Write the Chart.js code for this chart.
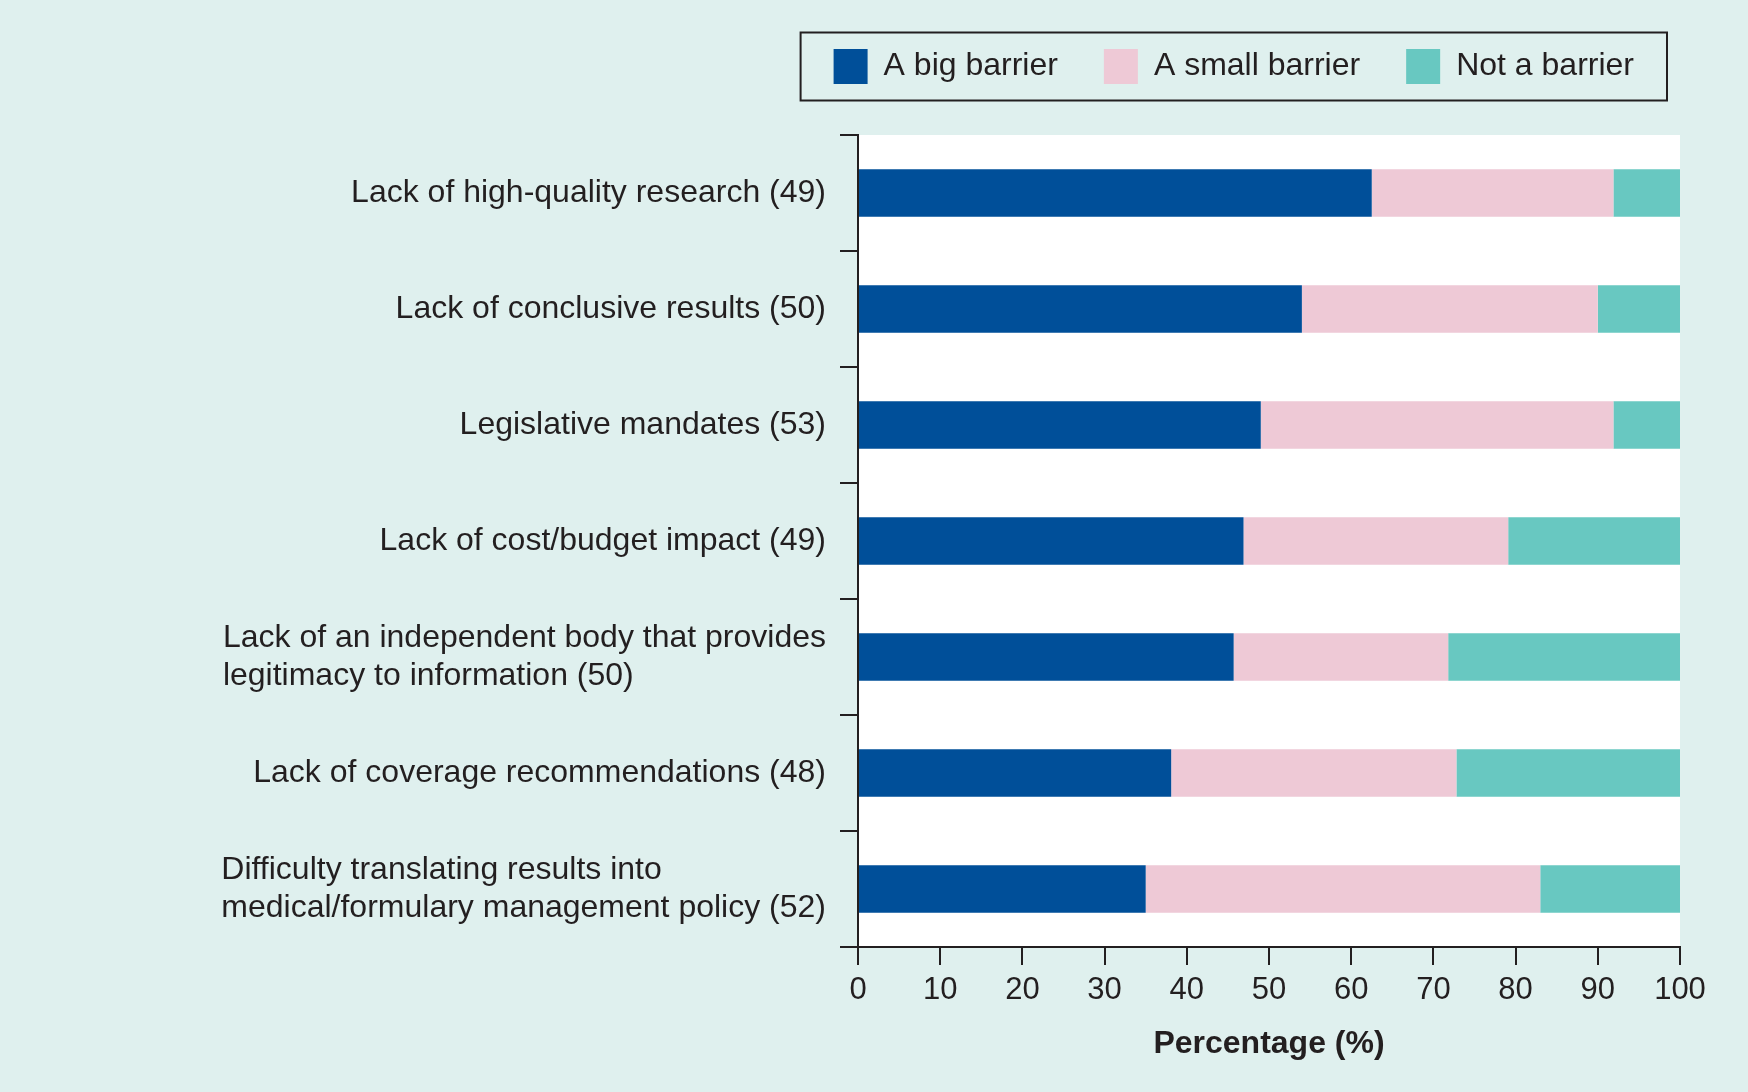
<!DOCTYPE html>
<html>
<head>
<meta charset="utf-8">
<title>Barriers</title>
<script src="https://cdn.jsdelivr.net/npm/chart.js@4.4.1/dist/chart.umd.min.js"></script>
<style>
  html, body { margin: 0; padding: 0; background: #dff0ee; }
  canvas { display: block; }
</style>
</head>
<body>
<canvas id="grafica" width="1748" height="1092"></canvas>
<script>
// datos (porcentajes)
var categorias = [
  'Lack of high-quality research (49)',
  'Lack of conclusive results (50)',
  'Legislative mandates (53)',
  'Lack of cost/budget impact (49)',
  ['Lack of an independent body that provides', 'legitimacy to information (50)'],
  'Lack of coverage recommendations (48)',
  ['Difficulty translating results into', 'medical/formulary management policy (52)']
];
var bigBarrier   = [62.5, 54.0, 49.0, 46.9, 45.7, 38.1, 35.0];
var smallBarrier = [29.4, 36.0, 42.9, 32.2, 26.1, 34.7, 48.0];
var notBarrier   = [8.1, 10.0, 8.1, 20.9, 28.2, 27.2, 17.0];
var xTicks = [0, 10, 20, 30, 40, 50, 60, 70, 80, 90, 100];

var fuente = '"Liberation Sans", Arial, Helvetica, sans-serif';
var tinta = '#231f20';
var tamLetra = 32;

// fondo blanco del area del grafico
const fondoArea = {
  id: 'fondoArea',
  beforeDraw(chart) {
    const a = chart.chartArea;
    const ctx = chart.ctx;
    ctx.save();
    ctx.fillStyle = '#ffffff';
    ctx.fillRect(a.left, a.top, a.right - a.left, a.bottom - a.top);
    ctx.restore();
  }
};

// espacio extra bajo la leyenda
const margenLeyenda = {
  id: 'margenLeyenda',
  beforeLayout(chart) {
    const leg = chart.legend;
    if (!leg || leg._parcheado) return;
    const fitOrig = leg.fit;
    leg.fit = function () {
      fitOrig.call(this);
      this.height += 41;
    };
    leg._parcheado = true;
  }
};

// marco de la leyenda
const marcoLeyenda = {
  id: 'marcoLeyenda',
  afterDraw(chart) {
    const hb = chart.legend && chart.legend.legendHitBoxes;
    if (!hb || !hb.length) return;
    const first = hb[0], last = hb[hb.length - 1];
    const ctx = chart.ctx;
    const left = first.left - 33;
    const right = last.left + last.width + 33;
    const top = first.top - 16.5;
    const bottom = first.top + first.height + 16.5;
    ctx.save();
    ctx.strokeStyle = tinta;
    ctx.lineWidth = 2;
    ctx.strokeRect(left, top, right - left, bottom - top);
    ctx.restore();
  }
};

// etiquetas del eje y: bloque alineado a la derecha, lineas alineadas a la izquierda
const etiquetasY = {
  id: 'etiquetasY',
  afterDraw(chart) {
    const y = chart.scales.y;
    const ctx = chart.ctx;
    const lh = tamLetra * 1.2;
    const xDer = y.right - 18 - 14;
    ctx.save();
    ctx.font = tamLetra + 'px ' + fuente;
    ctx.fillStyle = tinta;
    ctx.textBaseline = 'middle';
    ctx.textAlign = 'left';
    chart.data.labels.forEach(function (lab, i) {
      const lineas = Array.isArray(lab) ? lab : [lab];
      const w = Math.max.apply(null, lineas.map(function (l) { return ctx.measureText(l).width; }));
      const cy = y.getPixelForTick(i);
      const y0 = cy - (lineas.length - 1) * lh / 2;
      lineas.forEach(function (l, k) {
        ctx.fillText(l, xDer - w, y0 + k * lh);
      });
    });
    ctx.restore();
  }
};

const ctx = document.getElementById('grafica');

var mychart = new Chart(ctx, {
  type: 'bar',
  data: {
    labels: categorias,
    datasets: [
      { label: 'A big barrier', data: bigBarrier, backgroundColor: '#004f99' },
      { label: 'A small barrier', data: smallBarrier, backgroundColor: '#eec9d6' },
      { label: 'Not a barrier', data: notBarrier, backgroundColor: '#68c8c1' }
    ]
  },
  options: {
    indexAxis: 'y',
    responsive: false,
    devicePixelRatio: 1,
    animation: false,
    datasets: {
      bar: { barPercentage: 0.41, categoryPercentage: 1, borderWidth: 0 }
    },
    layout: {
      autoPadding: false,
      padding: { left: 0, right: 68, top: 3, bottom: 0 }
    },
    plugins: {
      tooltip: { enabled: false },
      legend: {
        position: 'top',
        align: 'end',
        labels: {
          boxWidth: 34,
          boxHeight: 35,
          padding: 46,
          color: tinta,
          font: { family: fuente, size: tamLetra }
        }
      }
    },
    scales: {
      x: {
        stacked: true,
        min: 0,
        max: 100,
        afterBuildTicks(scale) {
          scale.ticks = xTicks.map(function (v) { return { value: v }; });
        },
        afterFit(scale) { scale.height = 145; },
        grid: { drawOnChartArea: false, tickLength: 18, lineWidth: 2, color: tinta },
        border: { color: tinta, width: 2 },
        ticks: { padding: 7, color: tinta, font: { family: fuente, size: 31 } },
        title: {
          display: true,
          text: 'Percentage (%)',
          color: tinta,
          padding: { top: 0, bottom: 29 },
          font: { family: fuente, size: 32, weight: 'bold' }
        }
      },
      y: {
        stacked: true,
        afterFit(scale) { scale.width = 858; },
        grid: { drawOnChartArea: false, tickLength: 18, lineWidth: 2, color: tinta, offset: true },
        border: { color: tinta, width: 2 },
        ticks: { display: false }
      }
    }
  },
  plugins: [fondoArea, margenLeyenda, marcoLeyenda, etiquetasY]
});
</script>
</body>
</html>
